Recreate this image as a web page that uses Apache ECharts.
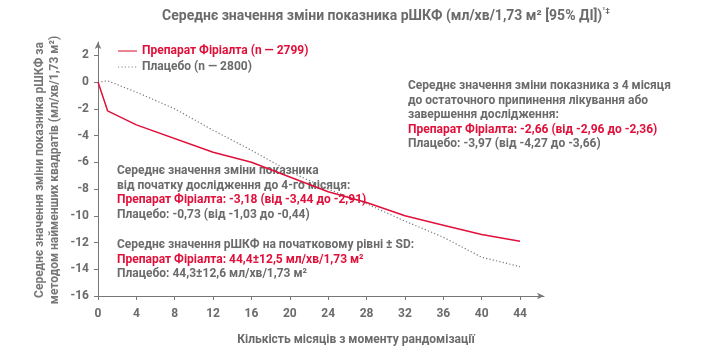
<!DOCTYPE html>
<html>
<head>
<meta charset="utf-8">
<script src="https://cdn.jsdelivr.net/npm/echarts@6/dist/echarts.min.js"></script>
<style>
html,body{margin:0;padding:0;background:#fff;}
#chart{width:704px;height:353px;}
</style>
</head>
<body>
<div id="chart"></div>
<script>
// місяці та значення
var monthsRed = [0, 1, 4, 12, 16, 20, 24, 28, 32, 36, 40, 44];
var valuesRed = [0, -2.15, -3.2, -5.25, -6.0, -7.1, -8.2, -9.0, -10.0, -10.7, -11.4, -11.9];
var monthsPlacebo = [0, 1, 4, 8, 12, 16, 20, 24, 28, 32, 36, 40, 44];
var valuesPlacebo = [0, 0.1, -0.75, -2.0, -3.6, -5.1, -6.7, -8.0, -9.1, -10.4, -11.6, -13.1, -13.8];
var xTicks = [0, 4, 8, 12, 16, 20, 24, 28, 32, 36, 40, 44];
var yTicks = [2, 0, -2, -4, -6, -8, -10, -12, -14, -16];

var RED = '#e0103a';
var GRAY = '#6b6b6b';
var FONT = 'Roboto, "Noto Sans", sans-serif';

function pairs(xs, ys){
	var out = [];
	for(var i=0;i<xs.length;i++){
		out.push([xs[i], ys[i]]);
	}
	return out;
}

var chart = echarts.init(document.getElementById('chart'), null, {renderer:'canvas'});

function block(left, top, lines){
	// lines: [текст, стиль]
	var s = lines.map(function(l){ return '{' + l[1] + '|' + l[0] + '}'; }).join('\n');
	return {
		type: 'text', left: left, top: top,
		style: {
			text: s, fontFamily: FONT, fontWeight: 'bold', fontSize: 12, lineHeight: 14.5,
			rich: {
				g: {fill: GRAY, fontFamily: FONT, fontWeight: 'bold', fontSize: 12, lineHeight: 14.5},
				r: {fill: RED, fontFamily: FONT, fontWeight: 'bold', fontSize: 12, lineHeight: 14.5}
			}
		}
	};
}

var option = {
	animation: false,
	grid: {left: 98, top: 42, width: 446, height: 254, containLabel: false},
	legend: {
		left: 112, top: 40, orient: 'vertical', itemGap: 4,
		itemWidth: 19, itemHeight: 12,
		itemStyle: {opacity: 0},
		textStyle: {fontFamily: FONT, fontWeight: 'bold', fontSize: 12},
		data: [
			{name: 'Препарат Фіріалта (n — 2799)', textStyle: {color: RED}, lineStyle: {color: '#ea8593', width: 2}},
			{name: 'Плацебо (n — 2800)', textStyle: {color: GRAY}, lineStyle: {color: '#8a8a8a', width: 1.2}}
		]
	},
	xAxis: {
		type: 'value', min: 0, max: 46.5,
		axisLine: {onZero: false, lineStyle: {color: '#777', width: 1}, symbol: ['none', 'arrow'], symbolSize: [5, 7]},
		axisTick: {show: true, length: 4, customValues: xTicks, lineStyle: {color: '#777'}},
		axisLabel: {customValues: xTicks, margin: 12, color: GRAY, fontFamily: FONT, fontWeight: 'bold', fontSize: 12},
		splitLine: {show: false}
	},
	yAxis: {
		type: 'value', min: -16, max: 3,
		axisLine: {show: true, lineStyle: {color: '#777', width: 1}, symbol: ['none', 'arrow'], symbolSize: [5, 7]},
		axisTick: {show: true, length: 4, customValues: yTicks, lineStyle: {color: '#777'}},
		axisLabel: {customValues: yTicks, margin: 9, color: GRAY, fontFamily: FONT, fontWeight: 'bold', fontSize: 12},
		splitLine: {show: false}
	},
	series: [
		{
			name: 'Препарат Фіріалта (n — 2799)', type: 'line', showSymbol: false, symbol: 'none',
			data: pairs(monthsRed, valuesRed),
			lineStyle: {color: RED, width: 1.5}, itemStyle: {color: RED}, z: 3
		},
		{
			name: 'Плацебо (n — 2800)', type: 'line', showSymbol: false, symbol: 'none',
			data: pairs(monthsPlacebo, valuesPlacebo),
			lineStyle: {color: '#777', width: 1.2, type: [1.2, 2.2]}, itemStyle: {color: '#777'}, z: 2
		}
	],
	graphic: [
		{
			type: 'text', x: 386, y: 7,
			style: {
				text: '{t|Середнє значення зміни показника рШКФ (мл/хв/1,73 м² [95% ДІ])}{s|¹‡}',
				align: 'center',
				rich: {
					t: {fill: GRAY, fontFamily: FONT, fontWeight: 'bold', fontSize: 14, lineHeight: 18},
					s: {fill: GRAY, fontFamily: FONT, fontWeight: 'bold', fontSize: 8, lineHeight: 18, verticalAlign: 'top'}
				}
			}
		},
		{
			type: 'text', x: 47, y: 170, rotation: Math.PI / 2,
			style: {
				text: 'Середнє значення зміни показника рШКФ за\nметодом найменших квадратів (мл/хв/1,73 м²)',
				fill: '#777', fontFamily: FONT, fontWeight: 'bold', fontSize: 12, lineHeight: 15,
				align: 'center', verticalAlign: 'middle'
			}
		},
		{
			type: 'text', x: 356, y: 340,
			style: {
				text: 'Кількість місяців з моменту рандомізації',
				fill: GRAY, fontFamily: FONT, fontWeight: 'bold', fontSize: 12,
				align: 'center', verticalAlign: 'middle'
			}
		},
		block(408, 79, [
			['Середнє значення зміни показника з 4 місяця', 'g'],
			['до остаточного припинення лікування або', 'g'],
			['завершення дослідження:', 'g'],
			['Препарат Фіріалта: -2,66 (від -2,96 до -2,36)', 'r'],
			['Плацебо: -3,97 (від -4,27 до -3,66)', 'g']
		]),
		block(117, 164, [
			['Середнє значення зміни показника', 'g'],
			['від початку дослідження до 4-го місяця:', 'g'],
			['Препарат Фіріалта: -3,18 (від -3,44 до -2,91)', 'r'],
			['Плацебо: -0,73 (від -1,03 до -0,44)', 'g']
		]),
		block(117, 238, [
			['Середнє значення рШКФ на початковому рівні ± SD:', 'g'],
			['Препарат Фіріалта: 44,4±12,5 мл/хв/1,73 м²', 'r'],
			['Плацебо: 44,3±12,6 мл/хв/1,73 м²', 'g']
		])
	]
};
chart.setOption(option);
</script>
</body>
</html>
